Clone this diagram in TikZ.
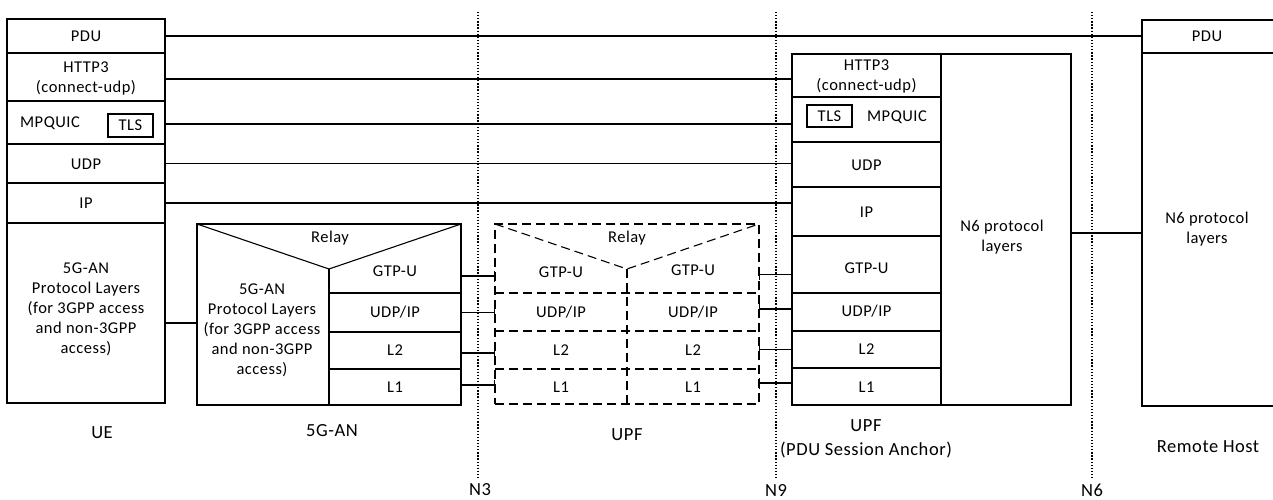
\documentclass[tikz,border=0pt]{standalone}
\usepackage{fontspec}
\setmainfont{Carlito}[LetterSpace=3]
\usetikzlibrary{arrows.meta}
\begin{document}
\begin{tikzpicture}[x=1pt,y=-1pt,
  every node/.style={inner sep=0pt,outer sep=0pt},
  lw/.style={line width=1.1pt},
  cell/.style={lw,draw,rectangle},
  cellnd/.style={rectangle},
  dcell/.style={lw,draw,rectangle,dash pattern=on 9pt off 5pt},
  dline/.style={lw,dash pattern=on 9pt off 5pt},
  txt/.style={font=\fontsize{16.5}{20}\selectfont,align=center},
  lbl/.style={font=\fontsize{18.5}{24}\selectfont,align=center},
  conn/.style={lw},
  bar/.style={lw,-{Bar[width=11pt,line width=1.1pt]}},
  barl/.style={lw,{Bar[width=11pt,line width=1.1pt]}-},
  refpt/.style={line width=1.2pt,dash pattern=on 1.3pt off 1.8pt}
]
\useasboundingbox (0,0) rectangle (1273,500);

% ---------------- UE ----------------
\node[cell,minimum width=158pt,minimum height=34pt] (uepdu) at (86,36) {};
\node[txt] (uepdut) at (86,36) {PDU};
\node[cell,minimum width=158pt,minimum height=48pt] (uehttp) at (86,77) {};
\node[txt] (uehttpt) at (86,78) {HTTP3\\(connect-udp)};
\node[cell,minimum width=158pt,minimum height=43pt] (uequic) at (86,122.5) {};
\node[txt] (uequict) at (50,123) {MPQUIC};
\node[cell,minimum width=45pt,minimum height=23pt] (uetls) at (130.5,125.5) {};
\node[txt] (uetlst) at (130.5,125.5) {TLS};
\node[cell,minimum width=158pt,minimum height=39pt] (ueudp) at (86,163.5) {};
\node[txt] (ueudpt) at (86,164) {UDP};
\node[cell,minimum width=158pt,minimum height=40pt] (ueip) at (86,203) {};
\node[txt] (ueipt) at (86,203) {IP};
\node[cell,minimum width=158pt,minimum height=180pt] (ue5g) at (86,313) {};
\node[txt] (ue5gt) at (86,309) {5G-AN\\Protocol Layers\\(for 3GPP access\\and non-3GPP\\access)};
\node[lbl] (uelbl) at (102,433) {UE};

% ---------------- 5G-AN ----------------
\node[cell,minimum width=264pt,minimum height=181pt] (an) at (329,314.5) {};
\coordinate (anv) at (329,269);
\draw[lw] (an.north west) -- (anv) -- (an.north east);
\draw[lw] (anv) -- (anv |- an.south);
\draw[lw] (329,293) -- (461,293);
\draw[lw] (329,332) -- (461,332);
\draw[lw] (329,369) -- (461,369);
\node[txt] (anrelay) at (330,238) {Relay};
\node[txt] (anleft) at (262,330) {5G-AN\\Protocol Layers\\(for 3GPP access\\and non-3GPP\\access)};
\node[cellnd,minimum width=132pt,minimum height=12pt] (angtp) at (395,276) {};
\node[txt] at (395,271) {GTP-U};
\node[cellnd,minimum width=132pt,minimum height=39pt] (anudp) at (395,312.5) {};
\node[txt] at (395,312) {UDP/IP};
\node[cellnd,minimum width=132pt,minimum height=37pt] (anl2) at (395,350.5) {};
\node[txt] at (395,350) {L2};
\node[cellnd,minimum width=132pt,minimum height=36pt] (anl1) at (395,387) {};
\node[txt] at (395,387) {L1};
\node[lbl] (anlbl) at (332,431) {5G-AN};

% ---------------- intermediate UPF (dashed) ----------------
\node[dcell,minimum width=264pt,minimum height=180pt] (up) at (627,314) {};
\coordinate (upv) at (627,269);
\draw[dline] (up.north west) -- (upv) -- (up.north east);
\draw[dline] (upv) -- (upv |- up.south);
\draw[dline] (495,293) -- (759,293);
\draw[dline] (495,331) -- (759,331);
\draw[dline] (495,369) -- (759,369);
\node[txt] (uprelay) at (627,238) {Relay};
\node[txt] (upg1) at (561,272) {GTP-U};
\node[txt] (upg2) at (693,270) {GTP-U};
\node[txt] (upu1) at (561,312) {UDP/IP};
\node[txt] (upu2) at (693,312) {UDP/IP};
\node[txt] (upl21) at (561,350) {L2};
\node[txt] (upl22) at (693,350) {L2};
\node[txt] (upl11) at (561,387) {L1};
\node[txt] (upl12) at (693,387) {L1};
\node[lbl] (uplbl) at (627,435) {UPF};

% ---------------- UPF (PDU Session Anchor) ----------------
\node[cell,minimum width=149pt,minimum height=43pt] (ahttp) at (866.5,75.5) {};
\node[txt] at (866.5,76) {HTTP3\\(connect-udp)};
\node[cell,minimum width=149pt,minimum height=45pt] (aquic) at (866.5,119.5) {};
\node[cell,minimum width=45pt,minimum height=22pt] (atls) at (829.5,116) {};
\node[txt] at (829.5,116) {TLS};
\node[txt] at (897,117) {MPQUIC};
\node[cell,minimum width=149pt,minimum height=45pt] (audp) at (866.5,164.5) {};
\node[txt] at (866.5,165) {UDP};
\node[cell,minimum width=149pt,minimum height=49pt] (aip) at (866.5,211.5) {};
\node[txt] at (866.5,212) {IP};
\node[cell,minimum width=149pt,minimum height=57pt] (agtp) at (866.5,264.5) {};
\node[txt] at (866.5,268) {GTP-U};
\node[cell,minimum width=149pt,minimum height=38pt] (audpip) at (866.5,312) {};
\node[txt] at (866.5,311) {UDP/IP};
\node[cell,minimum width=149pt,minimum height=37pt] (al2) at (866.5,349.5) {};
\node[txt] at (866.5,349) {L2};
\node[cell,minimum width=149pt,minimum height=37pt] (al1) at (866.5,386.5) {};
\node[txt] at (866.5,387) {L1};
\node[cell,minimum width=130pt,minimum height=351pt] (an6) at (1006,229.5) {};
\node[txt] at (1002,237) {N6 protocol\\layers};
\node[lbl] (alblt) at (866,439) {UPF\\(PDU Session Anchor)};

% ---------------- Remote Host ----------------
\node[cell,minimum width=132pt,minimum height=33pt] (rhpdu) at (1208,36.5) {};
\node[txt] at (1207,36) {PDU};
\node[cell,minimum width=132pt,minimum height=353pt] (rhn6) at (1208,229.5) {};
\node[txt] at (1207,229) {N6 protocol\\layers};
\node[lbl] (rhlbl) at (1208,447) {Remote Host};

% ---------------- reference points ----------------
\coordinate (n3t) at (478,12);  \coordinate (n3b) at (478,480);
\coordinate (n9t) at (776,12);  \coordinate (n9b) at (776,480);
\coordinate (n6t) at (1092,12); \coordinate (n6b) at (1092,480);
\draw[refpt] (n3t) -- (n3b);
\draw[refpt] (n9t) -- (n9b);
\draw[refpt] (n6t) -- (n6b);
\node[lbl] (n3l) at (480,490) {N3};
\node[lbl] (n9l) at (776,490) {N9};
\node[lbl] (n6l) at (1092,490) {N6};

% ---------------- connectors ----------------
\draw[conn] (uepdu.east) -- (uepdu.east -| rhpdu.west);
\draw[conn] ([yshift=-2pt]uehttp.east) -- ([yshift=-2pt]uehttp.east -| ahttp.west);
\draw[conn] ([yshift=-1.5pt]uequic.east) -- ([yshift=-1.5pt]uequic.east -| aquic.west);
\draw[conn] (ueudp.east) -- (ueudp.east -| audp.west);
\draw[conn] (ueip.east) -- (ueip.east -| aip.west);
\draw[conn] ([yshift=-10pt]ue5g.east) -- ([yshift=-10pt]ue5g.east -| an.west);

\draw[bar] (angtp.east) -- (angtp.east -| up.west);
\draw[bar] (anudp.east) -- (anudp.east -| up.west);
\draw[bar] ([yshift=-2.5pt]anl2.east) -- ([yshift=-2.5pt]anl2.east -| up.west);
\draw[bar] ([yshift=2pt]anl1.east) -- ([yshift=2pt]anl1.east -| up.west);

\draw[barl] ([yshift=-10pt]agtp.west -| up.east) -- ([yshift=-10pt]agtp.west);
\draw[barl] ([yshift=3pt]audpip.west -| up.east) -- ([yshift=3pt]audpip.west);
\draw[barl] (al2.west -| up.east) -- (al2.west);
\draw[barl] ([yshift=3.5pt]al1.west -| up.east) -- ([yshift=3.5pt]al1.west);

\draw[conn] ([yshift=-3.5pt]an6.east) -- ([yshift=-3.5pt]an6.east -| rhn6.west);
\end{tikzpicture}
\end{document}
